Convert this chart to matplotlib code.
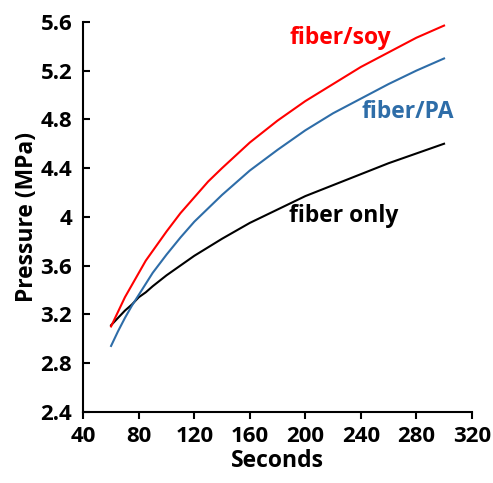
import numpy as np
import matplotlib
matplotlib.use("Agg")
import matplotlib.pyplot as plt

plt.rcParams['font.family'] = ['Open Sans', 'DejaVu Sans']

# values
seconds = [60, 65, 70, 75, 80, 85, 90, 100, 110, 120, 130, 140, 160, 180, 200, 220, 240, 260, 280, 300]
fiber_soy = [3.10, 3.22, 3.34, 3.44, 3.54, 3.64, 3.72, 3.88, 4.03, 4.16, 4.29, 4.40, 4.61, 4.79, 4.95,
             5.09, 5.23, 5.35, 5.47, 5.57]
fiber_pa = [2.94, 3.06, 3.17, 3.27, 3.36, 3.45, 3.54, 3.69, 3.83, 3.96, 4.07, 4.18, 4.38, 4.55, 4.71,
            4.85, 4.97, 5.09, 5.20, 5.30]
fiber_only = [3.11, 3.17, 3.23, 3.28, 3.34, 3.38, 3.43, 3.52, 3.60, 3.68, 3.75, 3.82, 3.95, 4.06, 4.17,
              4.26, 4.35, 4.44, 4.52, 4.60]

xticks = [40, 80, 120, 160, 200, 240, 280, 320]
yticks = [2.4, 2.8, 3.2, 3.6, 4.0, 4.4, 4.8, 5.2, 5.6]
ytick_labels = ['2.4', '2.8', '3.2', '3.6', '4', '4.4', '4.8', '5.2', '5.6']

red = '#FF0000'
blue = '#2E6DA8'

fig = plt.figure(figsize=(4.93, 4.83), dpi=100)
ax = fig.add_axes([0.169, 0.1476, 0.788, 0.807])

ax.plot(seconds, fiber_only, color='black', lw=1.5)
ax.plot(seconds, fiber_pa, color=blue, lw=1.5)
ax.plot(seconds, fiber_soy, color=red, lw=1.5)

ax.text(225, 5.47, 'fiber/soy', color=red, fontsize=16.5, fontweight='bold', ha='center', va='center')
ax.text(274, 4.86, 'fiber/PA', color=blue, fontsize=16.5, fontweight='bold', ha='center', va='center')
ax.text(228, 4.01, 'fiber only', color='black', fontsize=16.5, fontweight='bold', ha='center', va='center')

ax.set_xlim(40, 320)
ax.set_ylim(2.4, 5.6)
ax.set_xticks(xticks)
ax.set_yticks(yticks)
ax.set_yticklabels(ytick_labels)
ax.spines['top'].set_visible(False)
ax.spines['right'].set_visible(False)
for s in ['left', 'bottom']:
    ax.spines[s].set_linewidth(1.5)
ax.tick_params(axis='x', direction='out', length=5, width=1.5, labelsize=16, pad=5)
ax.tick_params(axis='y', direction='in', length=5, width=1.5, labelsize=16, pad=8)
for lab in ax.get_xticklabels() + ax.get_yticklabels():
    lab.set_fontweight('bold')

ax.set_xlabel('Seconds', fontsize=16.5, fontweight='bold', labelpad=2)
ax.set_ylabel('Pressure (MPa)', fontsize=16.5, fontweight='bold', labelpad=1)

fig.savefig('out.png', dpi=100)
